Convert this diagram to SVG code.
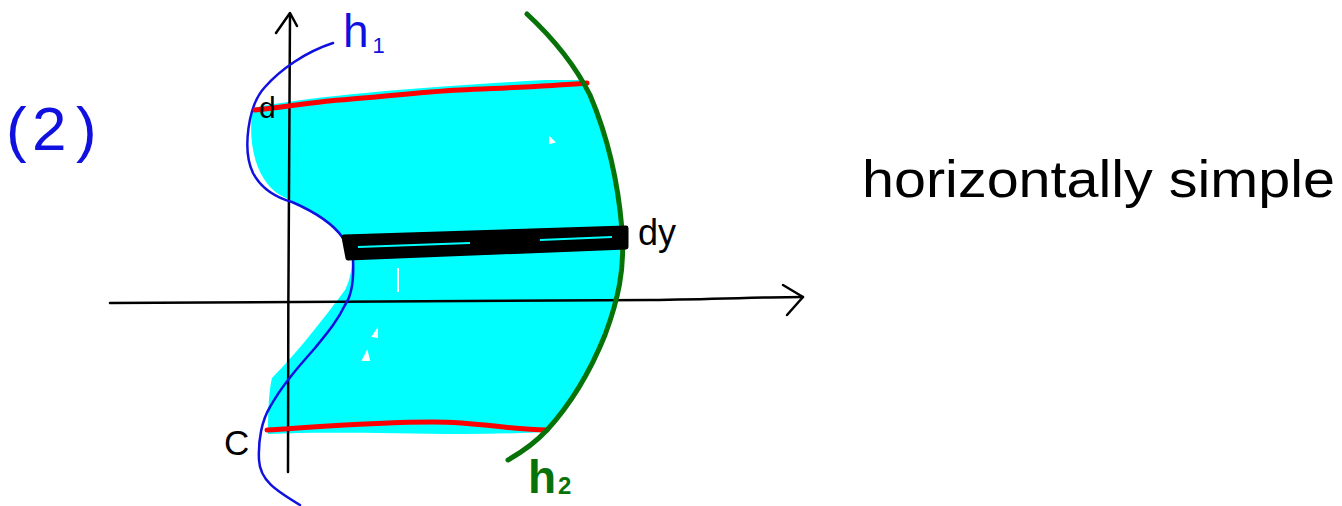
<svg xmlns="http://www.w3.org/2000/svg" width="1342" height="506" viewBox="0 0 1342 506">
<style>
.ax{fill:none;stroke:#000;stroke-width:2.5;stroke-linecap:round;stroke-linejoin:round}
.blue{fill:none;stroke:#1010e0;stroke-width:2.5;stroke-linecap:round}
.red{fill:none;stroke:#f00;stroke-width:5;stroke-linecap:round}
.green{fill:none;stroke:#077207;stroke-width:5;stroke-linecap:round}
.hand{font-family:"Liberation Sans",Arial,sans-serif}
</style>
<rect width="1342" height="506" fill="#fff"/>
<g id="region">
<path d="M253,108 C300,98 400,88 545,80 L584,80 C600,120 615,170 619,215 C623,260 618,300 604,332 C590,370 570,405 547,432 C450,437 350,430 268,434 C268,410 269,390 272,378 C300,350 330,310 345,290 C350,280 352,270 352,258 L345,240 C330,220 300,205 280,195 C255,180 247,140 253,108 Z" fill="#00ffff"/>
<path d="M550,138 l4,4 l-4,1 Z M398,268 l0,24 M377,330 l-4,6 l4,1 Z M367,352 l-4,8 l6,0 Z" fill="#fff" stroke="#fff" stroke-width="2"/>
</g>
<g id="axes">
<path class="ax" d="M110,303 C300,302 500,302 650,300 C720,299 770,297 803,297"/>
<path class="ax" d="M783,285 L803,297 L787,315"/>
<path class="ax" d="M290,14 C289,150 288,320 288,472"/>
<path class="ax" d="M276,33 L290,13 L297,26"/>
</g>
<g id="h1-curve">
<path class="blue" d="M333,43 C305,52 280,70 265,87 C248,105 242,150 253,173 C262,190 278,198 292,202 C315,212 334,225 343,238"/>
<path class="blue" d="M353,260 C354,280 352,295 345,305 C338,320 328,332 315,348 C300,365 282,385 270,407 C262,420 258,440 259,460 C260,480 275,490 300,505"/>
</g>
<g id="lines">
<path class="red" d="M255,110 C290,106 315,102 340,100 C380,97 420,92 460,90 C500,88 540,87 587,83"/>
<path class="red" d="M267,430 C330,426 380,422 433,422 C480,422 510,430 547,430"/>
<path class="green" d="M527,14 C555,40 575,65 590,95 C607,135 618,180 622,230 C625,270 618,300 605,335 C590,372 570,405 547,430 C535,443 522,452 508,460"/>
</g>
<g id="strip">
<polygon points="344,237 626,228 626,247 348,258" fill="#000" stroke="#000" stroke-width="5" stroke-linejoin="round"/>
<path d="M358,247 L470,243 M540,240 L612,237" stroke="#00ffff" stroke-width="2" fill="none"/>
</g>
<g id="labels">
<text class="hand" y="150" font-size="62" fill="#1010e0"><tspan x="6">(</tspan><tspan x="32">2</tspan><tspan x="76">)</tspan></text>
<text class="hand" x="343" y="47" font-size="46" fill="#1010e0">h<tspan font-size="22" dx="4" dy="6">1</tspan></text>
<text class="hand" x="259" y="118" font-size="30" fill="#000">d</text>
<text class="hand" x="224" y="455" font-size="35" fill="#000">C</text>
<text class="hand" x="638" y="245" font-size="36" fill="#000">dy</text>
<text class="hand" x="528" y="493" font-size="46" font-weight="bold" fill="#077207">h<tspan font-size="24" dx="2" dy="1">2</tspan></text>
<text class="hand" x="862" y="197" font-size="52" fill="#000" textLength="473" lengthAdjust="spacingAndGlyphs">horizontally simple</text>
</g>
</svg>
